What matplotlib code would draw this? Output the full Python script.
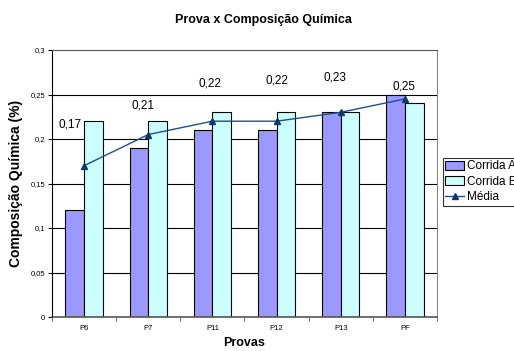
import numpy as np
import matplotlib
matplotlib.use('Agg')
import matplotlib.pyplot as plt
from matplotlib.ticker import FixedLocator, FuncFormatter

plt.rcParams['font.family'] = ['Liberation Sans', 'DejaVu Sans']

provas = ['P6', 'P7', 'P11', 'P12', 'P13', 'PF']
corrida_a = [0.12, 0.19, 0.21, 0.21, 0.23, 0.25]
corrida_b = [0.22, 0.22, 0.23, 0.23, 0.23, 0.24]
media = [0.17, 0.205, 0.22, 0.22, 0.23, 0.245]
media_labels = ['0,17', '0,21', '0,22', '0,22', '0,23', '0,25']

# label offsets (points) relative to each average marker
lbl_off = [(-10, 30), (-4, 21), (-2, 27), (0, 29), (-4, 25), (-1, 9)]

fig = plt.figure(figsize=(5.14, 3.51), dpi=100)
ax = fig.add_axes([52 / 514, 1 - 317 / 351, 385 / 514, 267 / 351])

x = np.arange(len(provas))
w = 0.29
ba = ax.bar(x - w / 2, corrida_a, w, color='#9999FF', edgecolor='black', linewidth=0.8,
            label='Corrida A', zorder=2)
bb = ax.bar(x + w / 2, corrida_b, w, color='#CCFFFF', edgecolor='black', linewidth=0.8,
            label='Corrida B', zorder=2)
ln, = ax.plot(x, media, color='#1F4E8C', linewidth=1.0, marker='^', markersize=4,
              markerfacecolor='#0E3A6E', markeredgecolor='#0E3A6E', label='Média', zorder=3)

for i, (v, t) in enumerate(zip(media, media_labels)):
    ax.annotate(t, (x[i], v), xytext=lbl_off[i], textcoords='offset points',
                ha='center', va='center', fontsize=8.5, zorder=4)

ax.set_xlim(-0.5, len(provas) - 0.5)
ax.set_ylim(0, 0.3)
ax.set_yticks(np.arange(0, 0.301, 0.05))
ax.yaxis.set_major_formatter(FuncFormatter(lambda v, p: ('%g' % round(v, 2)).replace('.', ',')))
for yv in np.arange(0.05, 0.26, 0.05):
    ax.axhline(yv, color='black', linewidth=0.8, zorder=1)

ax.set_xticks(x)
ax.set_xticklabels(provas)
ax.xaxis.set_minor_locator(FixedLocator(np.arange(-0.5, len(provas), 1.0)))
ax.tick_params(axis='x', which='major', length=0, labelsize=5.5, pad=6)
ax.tick_params(axis='x', which='minor', length=3, direction='out', color='#555555')
ax.tick_params(axis='y', length=3, direction='out', labelsize=5.5, pad=2)

ax.spines['left'].set_color('black')
ax.spines['bottom'].set_color('#555555')
ax.spines['bottom'].set_linewidth(1.2)
ax.spines['top'].set_color('#555555')
ax.spines['right'].set_color('#888888')

ax.set_xlabel('Provas', fontsize=9, fontweight='bold', labelpad=3)
ax.set_ylabel('Composição Química (%)', fontsize=10, fontweight='bold', labelpad=5)
fig.text(263 / 514, 1 - 20 / 351, 'Prova x Composição Química', ha='center', va='center',
         fontsize=9, fontweight='bold')

leg = fig.legend([ba, bb, ln], ['Corrida A', 'Corrida B', 'Média'], loc='upper left',
                 bbox_to_anchor=(443 / 514, 1 - 158 / 351),
                 fontsize=8.5, frameon=True, fancybox=False, borderpad=0.2,
                 handlelength=1.6, handleheight=0.8, handletextpad=0.25,
                 labelspacing=0.3, borderaxespad=0, numpoints=1)
leg.get_frame().set_edgecolor('black')
leg.get_frame().set_linewidth(0.8)

fig.savefig('out.png', dpi=100)
